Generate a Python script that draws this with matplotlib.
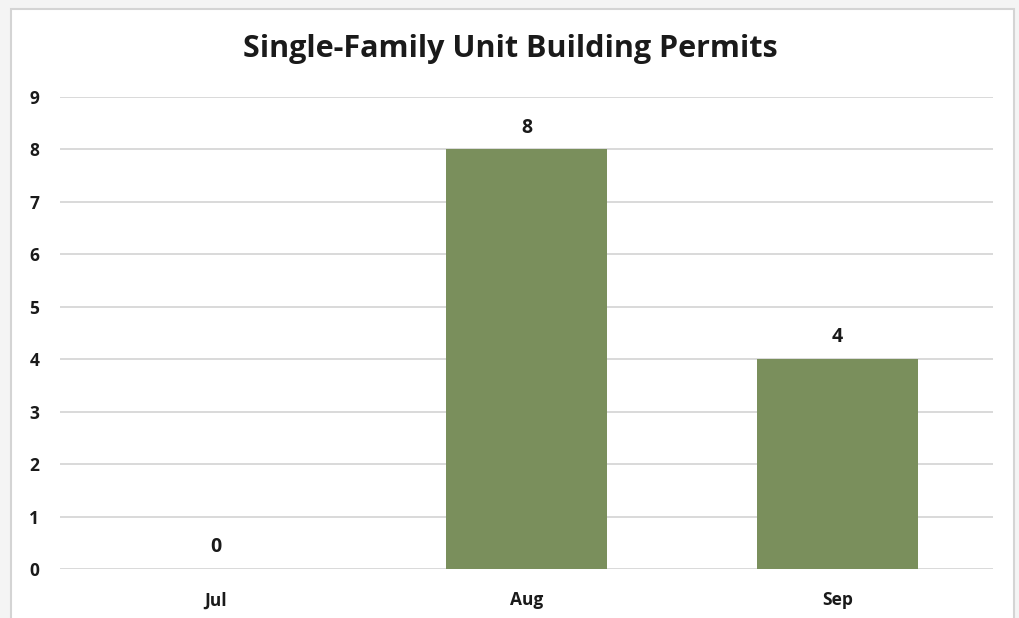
import matplotlib
matplotlib.use("Agg")
import matplotlib.pyplot as plt
from matplotlib.patches import Rectangle

categories = ["Jul", "Aug", "Sep"]
values = [0, 8, 4]
yticks = list(range(0, 10))
title = "Single-Family Unit Building Permits"

plt.rcParams['font.family'] = ['Open Sans', 'DejaVu Sans']

fig = plt.figure(figsize=(10.2, 6.18), dpi=100)
fig.patch.set_facecolor('#f4f4f4')
# white chart panel with border
panel = Rectangle((11/1020, -0.01), (1014-11)/1020, (618-9)/618 + 0.01,
                  transform=fig.transFigure, facecolor='white',
                  edgecolor='#d4d4d4', linewidth=1.5, zorder=-5)
fig.patches.append(panel)

ax = fig.add_axes([60/1020, 1-569/618, (993-60)/1020, (569-97)/618])
ax.set_zorder(2)
ax.set_facecolor('none')
x = range(len(categories))
bars = ax.bar(x, values, width=0.515, color='#7a8f5c', zorder=3)
ax.set_xlim(-0.5, 2.5)
ax.set_ylim(0, 9)
ax.set_yticks(yticks)
ax.set_yticklabels([str(t) for t in yticks], fontsize=12.5, fontweight='bold', color='#1a1a1a')
ax.set_xticks(list(x))
ax.set_xticklabels(categories, fontsize=12.5, fontweight='bold', color='#1a1a1a')
ax.tick_params(axis='both', length=0)
ax.tick_params(axis='y', pad=15)
ax.tick_params(axis='x', pad=16)
for s in ax.spines.values():
    s.set_visible(False)
ax.grid(axis='y', color='#d9d9d9', linewidth=1.4, zorder=0)
ax.set_axisbelow(True)
for xi, v in zip(x, values):
    ax.annotate(str(v), (xi, v), xytext=(0, 8.5), textcoords='offset points',
                ha='center', va='bottom', fontsize=14, fontweight='bold', color='#1a1a1a')
fig.text(0.5, 1-49/618, title, ha='center', va='center', fontsize=22, fontweight='bold', color='#1a1a1a')

fig.savefig('out.png', dpi=100, facecolor=fig.get_facecolor())
